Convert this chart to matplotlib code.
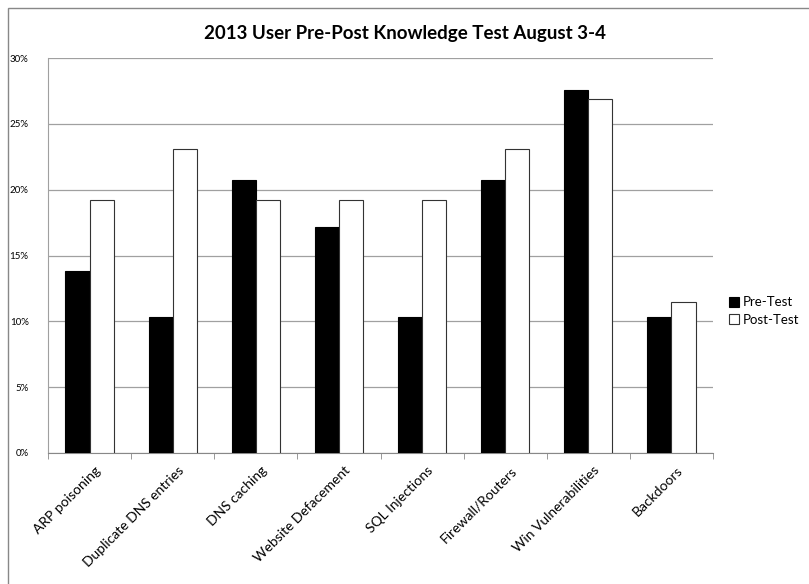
import numpy as np
import matplotlib.pyplot as plt
from matplotlib.patches import Rectangle

categories = ['ARP poisoning', 'Duplicate DNS entries', 'DNS caching', 'Website Defacement',
              'SQL Injections', 'Firewall/Routers', 'Win Vulnerabilities', 'Backdoors']
pre_test = [13.8, 10.3, 20.7, 17.2, 10.3, 20.7, 27.6, 10.3]
post_test = [19.2, 23.1, 19.2, 19.2, 19.2, 23.1, 26.9, 11.5]
yticks = [0, 5, 10, 15, 20, 25, 30]

plt.rcParams['font.family'] = ['Lato', 'DejaVu Sans']

fig = plt.figure(figsize=(8.09, 5.84), dpi=100)
ax = fig.add_axes([48/809, 1-453/584, (713-48)/809, (453-58)/584])

x = np.arange(len(categories))
w = 0.29
ax.bar(x - w/2, pre_test, w, color='black', edgecolor='black', linewidth=0.8, label='Pre-Test', zorder=3)
ax.bar(x + w/2, post_test, w, color='white', edgecolor='#333333', linewidth=0.8, label='Post-Test', zorder=3)

ax.set_xlim(-0.5, len(categories) - 0.5)
ax.set_ylim(0, 30)
ax.set_yticks(yticks)
ax.set_yticklabels([f'{v}%' for v in yticks], fontsize=7)
ax.yaxis.grid(True, color='#a0a0a0', linewidth=0.9, zorder=0)
ax.tick_params(axis='y', length=0, pad=14)

ax.set_xticks(x + 0.06)
ax.set_xticklabels(categories, rotation=45, ha='right', rotation_mode='anchor', fontsize=10)
ax.tick_params(axis='x', length=0, pad=8)
ax.set_xticks(np.arange(len(categories) + 1) - 0.5, minor=True)
ax.tick_params(axis='x', which='minor', length=4, color='#888888')

for s in ['top', 'right']:
    ax.spines[s].set_visible(False)
ax.spines['left'].set_color('#a0a0a0')
ax.spines['bottom'].set_color('#888888')

fig.text(0.5, 1 - 33/584, '2013 User Pre-Post Knowledge Test August 3-4',
         ha='center', va='center', fontsize=13.5, fontweight='bold')

fig.legend(loc='center left', bbox_to_anchor=(726/809, 1 - 311/584), frameon=False,
           fontsize=9.5, handlelength=0.8, handleheight=0.8, handletextpad=0.3, labelspacing=0.4,
           borderpad=0.2, borderaxespad=0)

fig.patches.append(Rectangle((8/809, -0.1), 1.0, 1 - 8/584 + 0.1, transform=fig.transFigure,
                             fill=False, edgecolor='#888888', linewidth=1))

fig.savefig('out.png', dpi=100)
